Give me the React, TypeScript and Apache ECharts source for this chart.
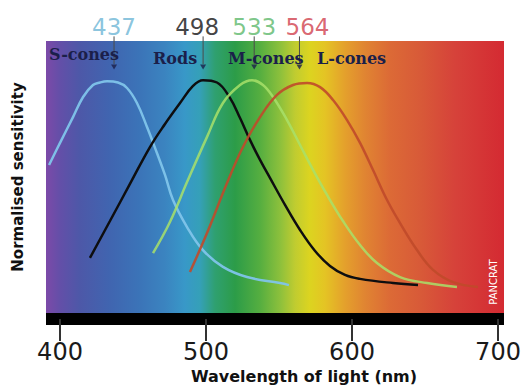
import React, { useEffect, useRef } from "react";
import * as echarts from "echarts";

// Wavelength (nm) / normalised sensitivity pairs
const sCones: [number, number][] = [
  [392.5, 0.642], [400, 0.738], [408.9, 0.85], [415.8, 0.937], [422.6, 0.989],
  [427.4, 1.0], [432.2, 1.005], [439.7, 1.0], [445.9, 0.976], [452.7, 0.911],
  [459.6, 0.807], [466.4, 0.694], [471.9, 0.599], [477.4, 0.49], [487, 0.373],
  [497.9, 0.273], [511.6, 0.2], [528.1, 0.156], [550.7, 0.13], [556.8, 0.121],
];
const rods: [number, number][] = [
  [420.5, 0.239], [434.2, 0.399], [447.9, 0.56], [461.6, 0.72], [471.9, 0.82],
  [482.2, 0.911], [491.1, 0.985], [497.9, 1.01], [507.5, 1.0], [516.4, 0.933],
  [523.3, 0.846], [530.1, 0.751], [537, 0.664], [543.8, 0.586], [554.1, 0.469],
  [564.4, 0.36], [574.7, 0.269], [584.9, 0.204], [595.2, 0.165], [605.5, 0.148],
  [628.1, 0.13], [645.2, 0.121],
];
const mCones: [number, number][] = [
  [463.7, 0.26], [475.3, 0.395], [487, 0.568], [500.7, 0.764], [511.6, 0.911],
  [523.3, 0.989], [531.5, 1.01], [539, 0.989], [545.9, 0.937], [555.5, 0.837],
  [564.4, 0.729], [573.3, 0.621], [582.9, 0.512], [593.8, 0.399], [605.5, 0.295],
  [617.1, 0.217], [632.9, 0.156], [651.4, 0.13], [671.9, 0.113],
];
const lCones: [number, number][] = [
  [489, 0.178], [500.7, 0.347], [514.4, 0.564], [525.3, 0.72], [537, 0.85],
  [548.6, 0.946], [559.6, 0.989], [569.2, 0.998], [578.1, 0.98], [587, 0.924],
  [596.6, 0.837], [605.5, 0.738], [614.4, 0.62], [624, 0.49], [632.9, 0.39],
  [644.5, 0.273], [655.5, 0.187], [669.2, 0.134], [686.3, 0.113],
];
const peakValues = [437, 498, 533, 564];
const peakColors = ["#6cb6d6", "#111111", "#5cb86a", "#d0404c"];
const peakLabelShift = [0, -6, 0, 8];
const xTicks = [400, 500, 600, 700];
const coneNames = ["S-cones", "Rods", "M-cones", "L-cones"];

export default function App() {
  const ref = useRef<HTMLDivElement>(null);
  useEffect(() => {
    if (!ref.current) return;
    const chart = echarts.init(ref.current, undefined, { renderer: "svg" });
    const gridLeft = 46, gridTop = 41, gridW = 458, gridH = 272;
    const spectrum = new echarts.graphic.LinearGradient(0, 0, 1, 0, [
      { offset: 0, color: "#7c4aa8" },
      { offset: 0.031, color: "#634fa8" },
      { offset: 0.074, color: "#4d58a8" },
      { offset: 0.14, color: "#4065b0" },
      { offset: 0.205, color: "#3b74b8" },
      { offset: 0.26, color: "#3b84c0" },
      { offset: 0.303, color: "#3898c8" },
      { offset: 0.336, color: "#35a0b8" },
      { offset: 0.369, color: "#2fa070" },
      { offset: 0.413, color: "#2c9c48" },
      { offset: 0.467, color: "#55ae40" },
      { offset: 0.511, color: "#8cc03c" },
      { offset: 0.544, color: "#c0cc30" },
      { offset: 0.576, color: "#dcd420" },
      { offset: 0.609, color: "#e4c424" },
      { offset: 0.653, color: "#e4a02c" },
      { offset: 0.697, color: "#e08432" },
      { offset: 0.751, color: "#dc6a36" },
      { offset: 0.817, color: "#d85a38" },
      { offset: 0.893, color: "#d6423a" },
      { offset: 1, color: "#d42a32" },
    ]);
    const curve = (name: string, data: [number, number][], color: string, opacity: number) => ({
      name,
      type: "line",
      data,
      smooth: 0.4,
      symbol: "none",
      z: 3,
      lineStyle: { color, width: 2.5, opacity },
    });
    const peakLines = peakValues.map((p) => ({
      type: "line",
      clip: false,
      symbol: "none",
      z: 4,
      lineStyle: { color: "#4a4a4a", width: 1 },
      data: [
        [p, 1.08],
        [p, 1.2],
      ],
    }));
    const coneLabelPos = [
      [49, 54],
      [153, 58],
      [228, 58],
      [317, 58],
    ];
    chart.setOption({
      animation: false,
      grid: { left: gridLeft, top: gridTop, width: gridW, height: gridH },
      xAxis: {
        type: "value",
        min: 390.4,
        max: 704.1,
        offset: 6,
        axisLine: { show: true, onZero: false, lineStyle: { color: "#000", width: 12, cap: "butt" } },
        axisTick: { show: true, customValues: xTicks, length: 22, lineStyle: { color: "#333", width: 2 } },
        axisLabel: {
          customValues: xTicks,
          fontSize: 24,
          color: "#1a1a1a",
          fontFamily: "DejaVu Sans",
          margin: 21,
        },
        splitLine: { show: false },
      },
      yAxis: {
        type: "value",
        min: 0,
        max: 1.18,
        name: "Normalised sensitivity",
        nameLocation: "middle",
        nameRotate: 90,
        nameGap: 21,
        nameTextStyle: { fontSize: 15, fontWeight: "bold", color: "#111", fontFamily: "DejaVu Sans" },
        axisLine: { show: false },
        axisTick: { show: false },
        axisLabel: { show: false },
        splitLine: { show: false },
      },
      graphic: [
        {
          type: "rect",
          z: 0,
          shape: { x: gridLeft, y: gridTop, width: gridW, height: gridH },
          style: { fill: spectrum },
        },
        ...coneNames.map((n, i) => ({
          type: "text",
          z: 5,
          x: coneLabelPos[i][0],
          y: coneLabelPos[i][1],
          style: {
            text: n,
            fill: "#1b1f4a",
            font: "bold 16px 'DejaVu Serif'",
            verticalAlign: "middle",
            align: "left",
          },
        })),
        {
          type: "text",
          z: 5,
          x: 304,
          y: 376,
          style: {
            text: "Wavelength of light (nm)",
            fill: "#111",
            font: "bold 16px 'DejaVu Sans'",
            align: "center",
            verticalAlign: "middle",
          },
        },
        {
          type: "text",
          z: 5,
          x: 493,
          y: 282,
          rotation: Math.PI / 2,
          style: {
            text: "PANCRAT",
            fill: "#fff",
            font: "10px 'DejaVu Sans'",
            align: "center",
            verticalAlign: "middle",
          },
        },
      ],
      series: [
        curve("S-cones", sCones, "#80c4ea", 0.95),
        curve("Rods", rods, "#0e0e10", 1),
        curve("M-cones", mCones, "#a8e06a", 0.85),
        curve("L-cones", lCones, "#c04a2a", 0.9),
        ...peakLines,
        {
          type: "scatter",
          z: 5,
          symbol: "triangle",
          symbolRotate: 180,
          symbolSize: [6, 5],
          itemStyle: { color: "#1b1f4a" },
          data: peakValues.map((p) => [p, 1.067]),
        },
        {
          type: "scatter",
          z: 5,
          clip: false,
          symbolSize: 0,
          data: peakValues.map((p, i) => ({
            value: [p, 1.2],
            label: {
              show: true,
              position: "top",
              distance: -2,
              offset: [peakLabelShift[i], 0],
              formatter: String(p),
              color: peakColors[i],
              fontSize: 23,
              fontFamily: "DejaVu Sans",
            },
          })),
        },
      ],
    });
    return () => chart.dispose();
  }, []);
  return <div ref={ref} style={{ width: 525, height: 385, position: "absolute", left: 0, top: 0 }} />;
}
